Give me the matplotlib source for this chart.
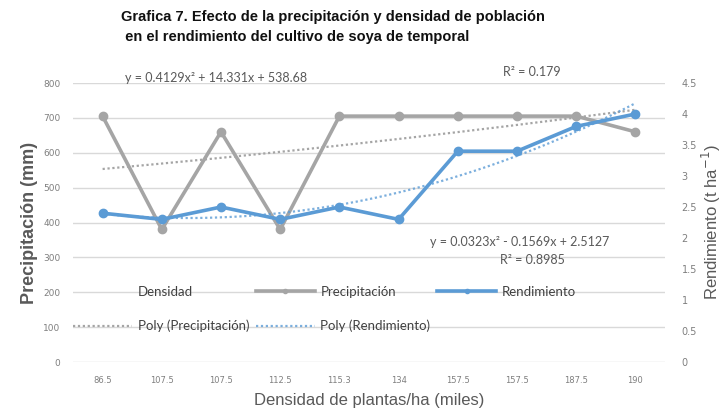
import numpy as np
import matplotlib.pyplot as plt
from matplotlib.lines import Line2D

# data
densidad = ["86.5", "107.5", "107.5", "112.5", "115.3", "134", "157.5", "157.5", "187.5", "190"]
precipitacion = [705, 380, 660, 380, 705, 705, 705, 705, 705, 660]
rendimiento = [2.4, 2.3, 2.5, 2.3, 2.5, 2.3, 3.4, 3.4, 3.8, 4.0]

# trend line coefficients as printed on the chart (x = 1..n)
poly_precip = [0.4129, 14.331, 538.68]
poly_rend = [0.0323, -0.1569, 2.5127]

GRAY = "#a5a5a5"
BLUE = "#5b9bd5"
TXT = "#595959"

fig = plt.figure(figsize=(7.25, 4.13), dpi=100)
ax = fig.add_axes([73 / 725, 51 / 413, 592 / 725, 279 / 413])
ax2 = ax.twinx()

x = np.arange(len(densidad))
xt = np.linspace(1, len(densidad), 200)

ax.plot(x, precipitacion, color=GRAY, lw=2.6, marker="o", ms=6, zorder=3)
ax.plot(xt - 1, np.polyval(poly_precip, xt), color=GRAY, lw=1.6, ls=(0, (1, 1.2)), zorder=2)
ax2.plot(x, rendimiento, color=BLUE, lw=2.6, marker="o", ms=6, zorder=3)
ax2.plot(xt - 1, np.polyval(poly_rend, xt), color=BLUE, lw=1.6, ls=(0, (1, 1.2)), alpha=0.8, zorder=2)

ax.set_xlim(-0.5, len(densidad) - 0.5)
ax.set_ylim(0, 800)
ax.set_yticks(range(0, 801, 100))
ax2.set_ylim(0, 4.5)
ax2.set_yticks(np.arange(0, 4.51, 0.5))
ax2.set_yticklabels(["0", "0.5", "1", "1.5", "2", "2.5", "3", "3.5", "4", "4.5"])
ax.set_xticks(x)
ax.set_xticklabels(densidad)

ax.grid(axis="y", color="#d9d9d9", lw=1)
ax.set_axisbelow(True)
for a in (ax, ax2):
    for s in a.spines.values():
        s.set_visible(False)
    a.tick_params(length=0, colors="#7f7f7f")
ax.tick_params(axis="y", labelsize=6.5, pad=9)
ax.tick_params(axis="x", labelsize=6, pad=10)
ax2.tick_params(axis="y", labelsize=7, pad=12)

ax.set_ylabel("Precipitación (mm)", fontsize=13, fontweight="bold", color=TXT,
              family="Liberation Sans", labelpad=4)
ax2.set_ylabel(r"Rendimiento (t ha$^{-1}$)", fontsize=12, color=TXT,
               family="Liberation Sans", labelpad=2)
ax.set_xlabel("Densidad de plantas/ha (miles)", fontsize=12, color=TXT,
              family="Liberation Sans", labelpad=6)

fig.text(121 / 725, 1 - 27 / 413,
         "Grafica 7. Efecto de la precipitación y densidad de población\n en el rendimiento del cultivo de soya de temporal",
         fontsize=10.5, fontweight="bold", family="Liberation Sans", color="#111111",
         ha="left", va="center", linespacing=1.6)

# trend line equations
ax.text(125, 78, "y = 0.4129x² + 14.331x + 538.68", transform=None, fontsize=9,
        color=TXT, family="Lato", va="center")
ax.text(503, 72, "R² = 0.179", transform=None, fontsize=9, color=TXT, family="Lato", va="center")
ax.text(430, 242, "y = 0.0323x² - 0.1569x + 2.5127", transform=None, fontsize=9,
        color=TXT, family="Lato", va="center")
ax.text(500, 260, "R² = 0.8985", transform=None, fontsize=9, color=TXT, family="Lato", va="center")
for t in ax.texts:
    px, py = t.get_position()
    t.set_transform(fig.transFigure)
    t.set_position((px / 725, 1 - py / 413))

handles = [
    Line2D([], [], color="none"),
    Line2D([], [], color=GRAY, lw=1.6, ls=(0, (1, 1.2))),
    Line2D([], [], color=GRAY, lw=2.6, marker="o", ms=3),
    Line2D([], [], color=BLUE, lw=1.6, ls=(0, (1, 1.2)), alpha=0.8),
    Line2D([], [], color=BLUE, lw=2.6, marker="o", ms=3),
]
labels = ["Densidad", "Poly (Precipitación)", "Precipitación", "Poly (Rendimiento)", "Rendimiento"]
leg = ax2.legend(handles, labels, ncol=3, frameon=False, loc="center left",
                 bbox_to_anchor=(0.0, (413 - 309 - 51) / 279),
                 prop={"family": "Lato", "size": 9.5}, handlelength=4.5,
                 handletextpad=0.4, labelspacing=1.7, columnspacing=0.5,
                 borderaxespad=0, borderpad=0)
for t in leg.get_texts():
    t.set_color("#404040")

fig.savefig("out.png", dpi=100)
